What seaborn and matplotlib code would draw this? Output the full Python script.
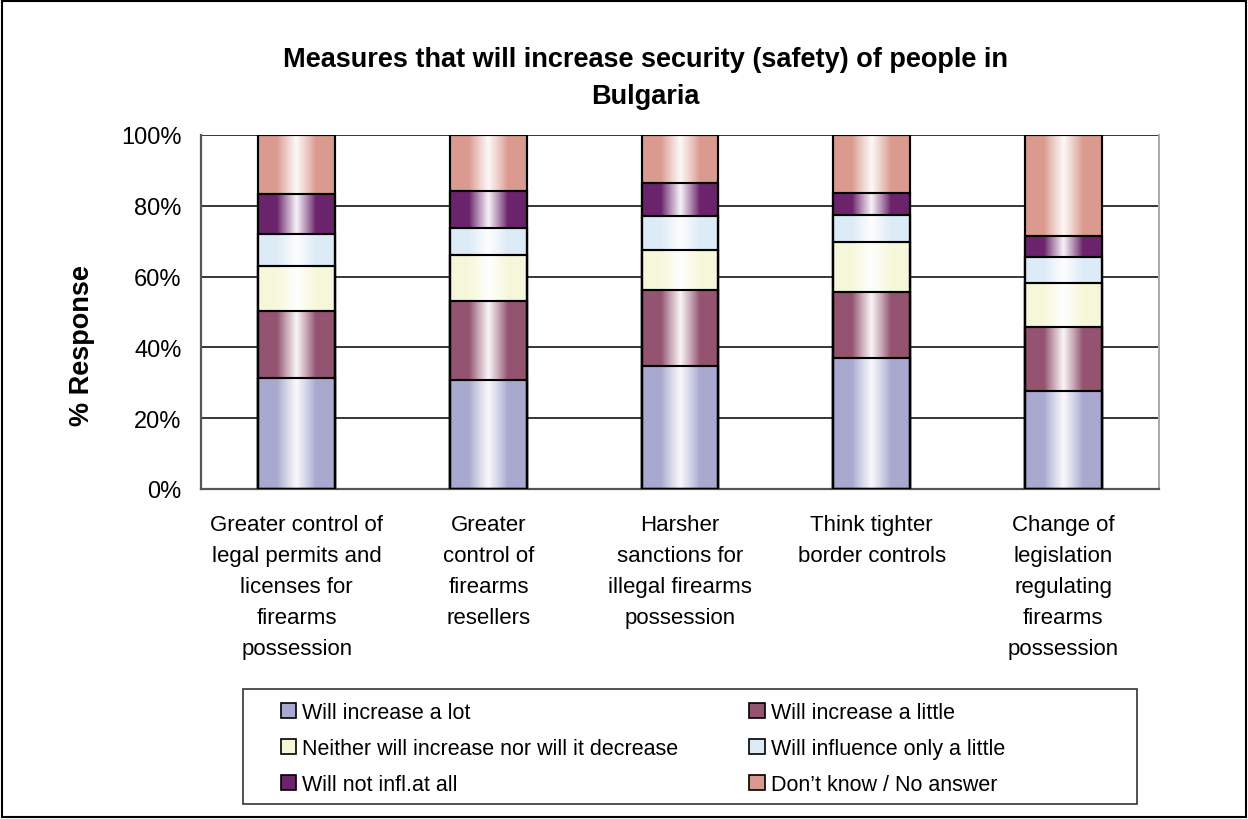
import numpy as np
import pandas as pd
import matplotlib.pyplot as plt
import seaborn as sns
from matplotlib.patches import Rectangle, Patch

# data (percent of responses per measure)
categories = ["Greater control of legal permits and licenses for firearms possession",
              "Greater control of firearms resellers",
              "Harsher sanctions for illegal firearms possession",
              "Think tighter border controls",
              "Change of legislation regulating firearms possession"]
tick_labels = ["Greater control of\nlegal permits and\nlicenses for\nfirearms\npossession",
               "Greater\ncontrol of\nfirearms\nresellers",
               "Harsher\nsanctions for\nillegal firearms\npossession",
               "Think tighter\nborder controls",
               "Change of\nlegislation\nregulating\nfirearms\npossession"]
series_names = ["Will increase a lot", "Will increase a little",
                "Neither will increase nor will it decrease", "Will influence only a little",
                "Will not infl.at all", "Don\u2019t know / No answer"]
increase_lot = [31.3, 30.9, 34.8, 37.0, 27.6]
increase_little = [19.1, 22.2, 21.4, 18.7, 18.2]
neither = [12.6, 13.0, 11.4, 14.1, 12.5]
influence_little = [8.9, 7.7, 9.4, 7.7, 7.3]
not_influence = [11.3, 10.5, 9.4, 6.2, 5.8]
dont_know = [16.8, 15.7, 13.6, 16.3, 28.6]
colors = ["#A9A9D0", "#945370", "#F6F7DA", "#DDEBF6", "#6B246B", "#DB9A8F"]

series = [increase_lot, increase_little, neither, influence_little, not_influence, dont_know]
df = pd.DataFrame({name: vals for name, vals in zip(series_names, series)}, index=categories)
cum = df.cumsum(axis=1)

sns.set_style("white")
plt.rcParams['font.family'] = ['Liberation Sans', 'DejaVu Sans']
plt.rcParams['text.color'] = 'black'
plt.rcParams['axes.labelcolor'] = 'black'
plt.rcParams['xtick.color'] = 'black'
plt.rcParams['ytick.color'] = 'black'

fig = plt.figure(figsize=(12.48, 8.2), dpi=100)
ax = fig.add_axes([201 / 1248, 1 - 490 / 820, 958 / 1248, 354 / 820])

# stacked bars: draw cumulative totals from the top layer down so each covers the one above
for name, col in reversed(list(zip(series_names, colors))):
    sns.barplot(x=categories, y=cum[name].values, color=col, saturation=1, width=0.4,
                edgecolor="black", linewidth=1.5, ax=ax, zorder=2, legend=False)

# white shine in the middle of each bar (cylinder look)
t = np.linspace(0, 1, 300)
alpha = np.clip(1 - np.abs(t - 0.5) / 0.25, 0, 1) ** 0.9 * 0.95
shine = np.ones((1, t.size, 4))
shine[0, :, 3] = alpha

containers = list(reversed(ax.containers))  # bottom layer first
for k, cont in enumerate(containers):
    for j, p in enumerate(cont.patches):
        top = cum.iloc[j, k]
        bot = cum.iloc[j, k - 1] if k > 0 else 0
        x0, w = p.get_x(), p.get_width()
        ax.imshow(shine, extent=[x0, x0 + w, bot, top], aspect="auto",
                  interpolation="bilinear", zorder=2.5)
for cont in ax.containers:
    for p in cont.patches:
        ax.add_patch(Rectangle(p.get_xy(), p.get_width(), p.get_height(), fill=False,
                               edgecolor="black", linewidth=1.5, zorder=3))

ax.set_xlim(-0.5, len(categories) - 0.5)
ax.set_ylim(0, 100)
ax.set_yticks(np.arange(0, 101, 20))
ax.set_yticklabels([f"{v}%" for v in range(0, 101, 20)], fontsize=17)
ax.set_xticks(range(len(categories)))
ax.set_xticklabels(tick_labels, fontsize=16, linespacing=1.62)
ax.set_xticks(np.arange(-0.5, len(categories), 1), minor=True)
ax.tick_params(axis="x", which="major", length=0, pad=18)
ax.tick_params(axis="x", which="minor", length=8, width=1.2, color="#555555", direction="out")
ax.tick_params(axis="y", which="major", length=8, width=1.2, color="#555555", direction="out", pad=6)
ax.yaxis.grid(True, color="black", linewidth=1.1)
ax.set_axisbelow(True)
for side in ["left", "bottom"]:
    ax.spines[side].set_color("#555555")
    ax.spines[side].set_linewidth(1.6)
ax.spines["right"].set_color("#aaaaaa")
ax.spines["right"].set_linewidth(1.4)
ax.spines["top"].set_visible(False)

ax.set_ylabel("% Response", fontsize=19.5, fontweight="bold")
ax.yaxis.set_label_coords(-0.111, 0.407)
ax.set_xlabel("")

fig.text(0.517, 0.943, "Measures that will increase security (safety) of people in\nBulgaria",
         ha="center", va="top", fontsize=19.5, fontweight="bold", linespacing=1.55)

# legend in its own box, two columns
fig.patches.append(Rectangle((243 / 1248, 1 - 805 / 820), 894 / 1248, 115 / 820,
                             transform=fig.transFigure, fill=False, edgecolor="#333333",
                             linewidth=1.2))
order = [0, 2, 4, 1, 3, 5]
handles = [Patch(facecolor=colors[i], edgecolor="black", linewidth=1.2) for i in order]
fig.legend(handles, [series_names[i] for i in order], ncol=2, frameon=False,
           loc="upper left", bbox_to_anchor=(270 / 1248, 1 - 692 / 820),
           fontsize=15.5, handlelength=0.7, handleheight=0.7, handletextpad=0.3,
           columnspacing=3.3, labelspacing=0.7, borderpad=0)

# outer frame
fig.patches.append(Rectangle((0.002, 0.003), 0.996, 0.994, transform=fig.transFigure,
                             fill=False, edgecolor="black", linewidth=1.5))

fig.savefig("out.png", dpi=100)
